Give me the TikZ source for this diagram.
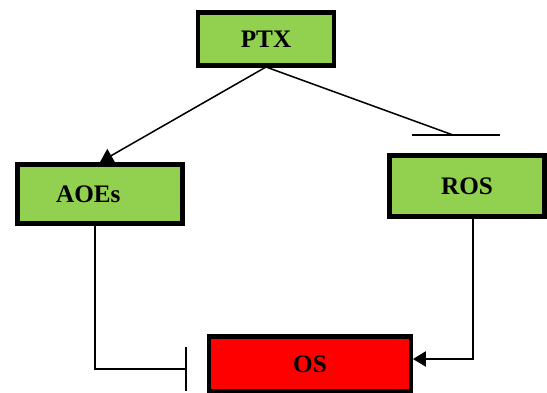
\documentclass[tikz,border=0pt]{standalone}
\usepackage{fontspec}
\setmainfont{Liberation Serif}
\usetikzlibrary{arrows.meta}
\definecolor{boxgreen}{RGB}{146,208,80}
\definecolor{boxred}{RGB}{255,0,0}

\begin{document}
\begin{tikzpicture}[x=0.03cm,y=-0.03cm,
	box/.style={draw=black,line width=4.2pt,fill=boxgreen,inner sep=0pt,
		font=\fontsize{21.5}{26}\selectfont\bfseries},
	link/.style={line width=1.3pt,draw=black}]
	\useasboundingbox (0,0) rectangle (547,393);
	\def\bw{0.03cm};
	\node[box,minimum width=136*\bw,minimum height=53*\bw] (ptx) at (266,39) {PTX};
	\node[box,minimum width=165*\bw,minimum height=59*\bw] (aoes) at (100,194) {\hspace{-20pt}AOEs};
	\node[box,minimum width=155*\bw,minimum height=61*\bw] (ros) at (467,186) {ROS};
	\node[box,fill=boxred,minimum width=202*\bw,minimum height=55*\bw] (os) at (310,364) {OS};
	
	\coordinate (ptxout) at (266,67);
	\coordinate (rosbar) at (453,135);
	\coordinate (rosbarl) at (412,135);
	\coordinate (rosbarr) at (500,135);
	\coordinate (osbar) at (187,369);
	\coordinate (osin) at (413,359);
	\draw[link,-{Triangle[length=11pt,width=13pt]}] (ptxout) -- (aoes.north);
	\draw[link] (ptxout) -- (rosbar);
	\draw[link] (rosbarl) -- (rosbarr);
	\draw[link,-{Bar[width=1.32cm,line width=1.3pt]}] (aoes.south) ++(-5,0) |- (osbar);
	\draw[link,-{Triangle[length=11pt,width=13pt]}] (ros.south) ++(6,0) |- (osin);
\end{tikzpicture}
\end{document}
